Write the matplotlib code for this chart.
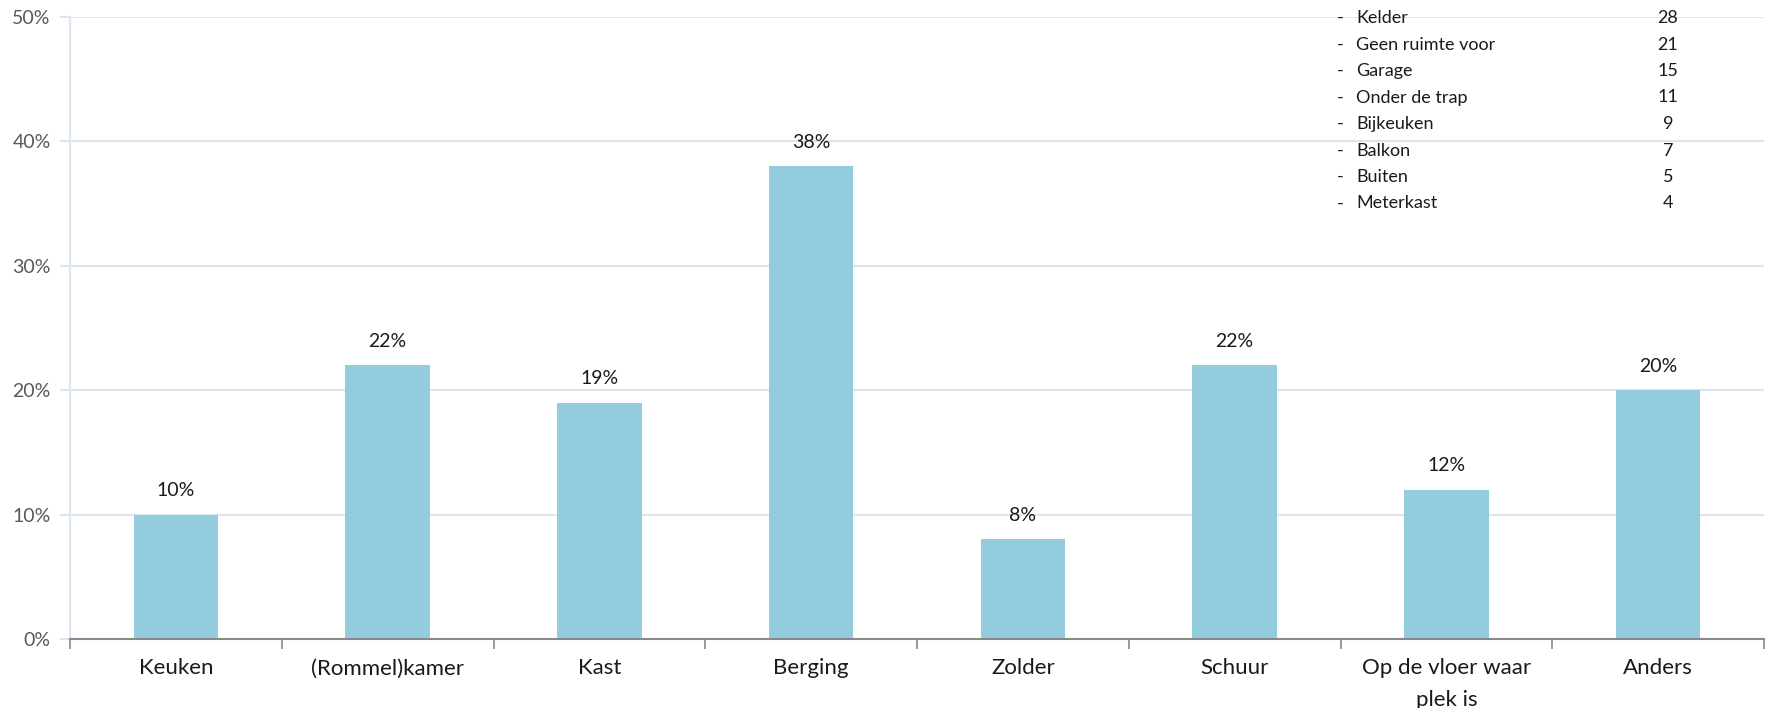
import matplotlib
matplotlib.use("Agg")
import matplotlib.pyplot as plt
from matplotlib.ticker import FuncFormatter

plt.rcParams['font.family'] = ['Lato', 'DejaVu Sans']

categories = ["Keuken", "(Rommel)kamer", "Kast", "Berging", "Zolder", "Schuur",
              "Op de vloer waar\nplek is", "Anders"]
values = [10, 22, 19, 38, 8, 22, 12, 20]

other_names = ["Kelder", "Geen ruimte voor", "Garage", "Onder de trap",
               "Bijkeuken", "Balkon", "Buiten", "Meterkast"]
other_counts = [28, 21, 15, 11, 9, 7, 5, 4]

W, H = 1767, 708
fig = plt.figure(figsize=(W / 100, H / 100), dpi=100)
ax = fig.add_axes([70 / W, 1 - 639 / H, (1764 - 70) / W, (639 - 17) / H])

x = list(range(len(categories)))
ax.bar(x, values, width=0.4, color="#93CDDD", zorder=3)

for xi, v in zip(x, values):
    ax.annotate(f"{v}%", (xi, v), xytext=(0, 11), textcoords="offset points",
                ha="center", va="bottom", fontsize=14, color="#1a1a1a")

ax.set_ylim(0, 50)
ax.set_xlim(-0.5, len(categories) - 0.5)
ax.set_yticks(range(0, 51, 10))
ax.yaxis.set_major_formatter(FuncFormatter(lambda v, p: f"{int(v)}%"))
ax.grid(axis="y", color="#DCE6F2", linewidth=1.5, zorder=0)
ax.tick_params(axis="y", length=7, width=1.5, color="#DCE6F2", labelsize=14,
               labelcolor="#595959", pad=7)

ax.set_xticks(x)
ax.set_xticklabels(categories, fontsize=16, color="#1a1a1a", linespacing=1.7)
ax.set_xticks([i - 0.5 for i in range(len(categories) + 1)], minor=True)
ax.tick_params(axis="x", which="major", length=0, pad=14)
ax.tick_params(axis="x", which="minor", length=7, width=1.2, color="#898989")

for s in ["top", "right"]:
    ax.spines[s].set_visible(False)
ax.spines["left"].set_color("#DCE6F2")
ax.spines["left"].set_linewidth(1.5)
ax.spines["bottom"].set_color("#898989")
ax.spines["bottom"].set_linewidth(1.5)
ax.spines["bottom"].set_zorder(4)

y0 = 18
dy = 26.5
for i, (n, c) in enumerate(zip(other_names, other_counts)):
    yy = 1 - (y0 + i * dy) / H
    fig.text(1337 / W, yy, "-", fontsize=13, va="center", ha="left", color="#1a1a1a")
    fig.text(1356 / W, yy, n, fontsize=13, va="center", ha="left", color="#1a1a1a")
    fig.text(1668 / W, yy, str(c), fontsize=13, va="center", ha="center", color="#1a1a1a")

fig.savefig("out.png", dpi=100, facecolor="white")
